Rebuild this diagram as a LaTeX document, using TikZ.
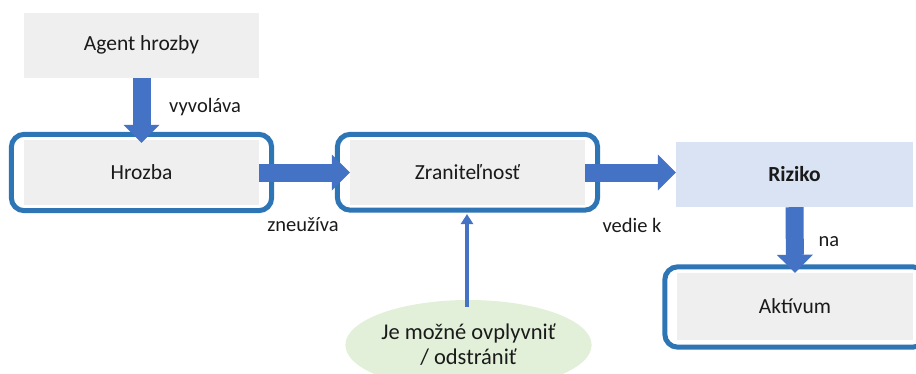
\documentclass[tikz,border=0pt]{standalone}
\usepackage{fontspec}
\setmainfont{Carlito}
\usetikzlibrary{arrows.meta,calc,shapes.geometric}

\definecolor{boxgray}{HTML}{EFEFEF}
\definecolor{frameblue}{HTML}{2E75B6}
\definecolor{arrowblue}{HTML}{4472C4}
\definecolor{riskblue}{HTML}{DAE3F3}
\definecolor{notegreen}{HTML}{E2F0D9}
\definecolor{inktext}{HTML}{1A1A1A}

\begin{document}
\begin{tikzpicture}[x=1pt,y=-1pt,
  every node/.style={text=inktext, font=\fontsize{21.5}{25}\selectfont},
  card/.style={fill=boxgray, minimum width=235pt, minimum height=65pt, inner sep=0pt},
  frame/.style={draw=frameblue, line width=5pt, rounded corners=13pt},
  fatarrow/.style={draw=arrowblue, line width=18pt,
    -{Triangle[length=18pt,width=36pt,line width=0pt]}},
  thinarrow/.style={draw=arrowblue, line width=4pt,
    -{Triangle[length=10pt,width=13pt,line width=0pt]}},
  verb/.style={font=\fontsize{20.5}{24}\selectfont}
]
\useasboundingbox (0,0) rectangle (916,373);

% boxes
\node[card] (agent) at (141.5,45) {Agent hrozby};
\node[card] (hrozba) at (141.5,172.5) {Hrozba};
\node[card] (zran) at (467.5,172.5) {Zraniteľnosť};
\node[card, fill=riskblue, minimum width=237pt, font=\fontsize{21.5}{25}\selectfont\bfseries] (riziko) at (794.5,174.5) {Riziko};
\node[card, minimum width=236pt, minimum height=67pt] (aktivum) at (795,306.5) {Aktívum};
\node[ellipse, fill=notegreen, minimum width=217pt, minimum height=90pt,
      inner sep=0pt, align=center, font=\fontsize{22.5}{25}\selectfont] (note) at (468.5,345) {Je možné ovplyvniť\\/ odstrániť};

% rounded frames around the highlighted boxes
\draw[frame] ($(hrozba.north west)+(-12.5,-5.5)$) rectangle ($(hrozba.south east)+(12.5,5.5)$);
\draw[frame] ($(zran.north west)+(-12.5,-5.5)$) rectangle ($(zran.south east)+(12.5,5)$);
\draw[frame] ($(aktivum.north west)+(-12,-6)$) rectangle ($(aktivum.south east)+(12.5,7)$);

% connectors
\draw[fatarrow] (agent.south) -- ($(hrozba.north)+(0,3)$);
\draw[fatarrow] (hrozba.east) -- (zran.west);
\draw[fatarrow] (zran.east) -- (zran.east -| riziko.west);
\draw[fatarrow] (riziko.south) -- (aktivum.north);
\coordinate (notetop) at ($(note.north)+(-1.5,7)$);
\draw[thinarrow] (notetop) -- ($(zran.south)+(-0.5,9)$);

% connector labels
\node[verb] (lab1) at (205,107) {vyvoláva};
\node[verb] (lab2) at (303,225) {zneužíva};
\node[verb] (lab3) at (632,225) {vedie k};
\node[verb] (lab4) at (829,242) {na};
\end{tikzpicture}
\end{document}
